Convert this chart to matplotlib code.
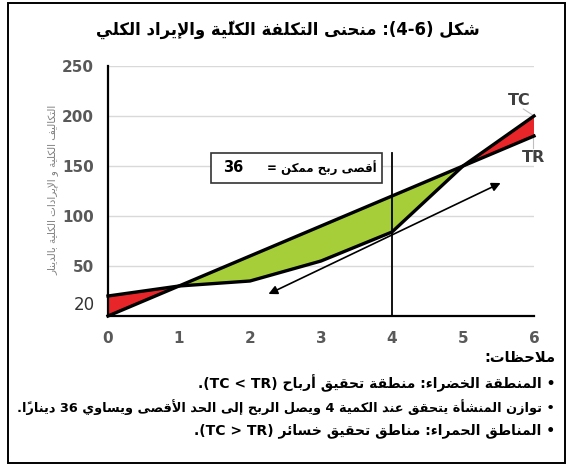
import matplotlib
matplotlib.use("Agg")
import matplotlib.pyplot as plt
from matplotlib.patches import Rectangle
import numpy as np

# ---------------- data ----------------
quantity = [0, 1, 2, 3, 4, 5, 6]
total_cost = [20, 30, 35, 55, 84, 150, 200]
total_revenue = [0, 30, 60, 90, 120, 150, 180]
x_ticks = [0, 1, 2, 3, 4, 5, 6]
y_ticks = [50, 100, 150, 200, 250]
max_profit = 36
optimal_q = 4

title_txt = "شكل (4-6): منحنى التكلفة الكليّة والإيراد الكلي"
ylabel_txt = "التكاليف الكلية و الإيرادات الكلية بالدينار"
box_txt = "أقصى ربح ممكن ="
notes_head = "ملاحظات:"
notes = [
    "• المنطقة الخضراء: منطقة تحقيق أرباح (TC < TR).",
    "• توازن المنشأة يتحقق عند الكمية 4 ويصل الربح إلى الحد الأقصى ويساوي 36 ديناراً.",
    "• المناطق الحمراء: مناطق تحقيق خسائر (TC > TR).",
]

# ---------------- simple Arabic shaping + bidi ----------------
_base = [('\u0621', 0xFE80, 1), ('\u0622', 0xFE81, 2), ('\u0623', 0xFE83, 2),
         ('\u0624', 0xFE85, 2), ('\u0625', 0xFE87, 2), ('\u0626', 0xFE89, 4),
         ('\u0627', 0xFE8D, 2), ('\u0628', 0xFE8F, 4), ('\u0629', 0xFE93, 2),
         ('\u062A', 0xFE95, 4), ('\u062B', 0xFE99, 4), ('\u062C', 0xFE9D, 4),
         ('\u062D', 0xFEA1, 4), ('\u062E', 0xFEA5, 4), ('\u062F', 0xFEA9, 2),
         ('\u0630', 0xFEAB, 2), ('\u0631', 0xFEAD, 2), ('\u0632', 0xFEAF, 2),
         ('\u0633', 0xFEB1, 4), ('\u0634', 0xFEB5, 4), ('\u0635', 0xFEB9, 4),
         ('\u0636', 0xFEBD, 4), ('\u0637', 0xFEC1, 4), ('\u0638', 0xFEC5, 4),
         ('\u0639', 0xFEC9, 4), ('\u063A', 0xFECD, 4), ('\u0641', 0xFED1, 4),
         ('\u0642', 0xFED5, 4), ('\u0643', 0xFED9, 4), ('\u0644', 0xFEDD, 4),
         ('\u0645', 0xFEE1, 4), ('\u0646', 0xFEE5, 4), ('\u0647', 0xFEE9, 4),
         ('\u0648', 0xFEED, 2), ('\u0649', 0xFEEF, 2), ('\u064A', 0xFEF1, 4)]
FORMS = {c: tuple(start + k for k in range(n)) for c, start, n in _base}
LAM_ALEF = {'\u0622': 0xFEF5, '\u0623': 0xFEF7, '\u0625': 0xFEF9, '\u0627': 0xFEFB}
LAM = '\u0644'


def is_mark(c):
    return '\u064B' <= c <= '\u0652' or c == '\u0670'


def reshape(s):
    ch = list(s)
    n = len(ch)

    def prev_joins(i):
        j = i - 1
        while j >= 0 and is_mark(ch[j]):
            j -= 1
        return j >= 0 and ch[j] in FORMS and len(FORMS[ch[j]]) == 4

    def next_letter(i):
        j = i + 1
        while j < n and is_mark(ch[j]):
            j += 1
        return (ch[j], j) if (j < n and ch[j] in FORMS) else (None, j)

    out = []
    i = 0
    while i < n:
        c = ch[i]
        if c == LAM:
            nl, j = next_letter(i)
            if nl in LAM_ALEF:
                code = LAM_ALEF[nl] + (1 if prev_joins(i) else 0)
                out.append(chr(code))
                out.extend(ch[i + 1:j])
                i = j + 1
                continue
        if c in FORMS:
            f = FORMS[c]
            jp = len(f) >= 2 and prev_joins(i)
            jn = len(f) == 4 and next_letter(i)[0] is not None
            if jp and jn:
                out.append(chr(f[3]))
            elif jp:
                out.append(chr(f[1]))
            elif jn:
                out.append(chr(f[2]))
            else:
                out.append(chr(f[0]))
        else:
            out.append(c)
        i += 1
    return ''.join(out)


def _rtl(c):
    return ('\u0600' <= c[0] <= '\u06FF') or ('\uFB50' <= c[0] <= '\uFEFF')


def _ltr(c):
    return c[0].isascii() and c[0].isalnum()


MIRROR = {'(': ')', ')': '(', '[': ']', ']': '[', '<': '>', '>': '<'}


def ar(s):
    s = reshape(s)
    cl = []
    for c in s:
        if is_mark(c) and cl:
            cl[-1] += c
        else:
            cl.append(c)
    units = []
    i = 0
    n = len(cl)
    while i < n:
        if _ltr(cl[i]):
            last = i
            k = i + 1
            while k < n and not _rtl(cl[k]):
                if _ltr(cl[k]):
                    last = k
                k += 1
            units.append(''.join(cl[i:last + 1]))
            i = last + 1
        else:
            units.append(MIRROR.get(cl[i], cl[i]))
            i += 1
    return ''.join(units[::-1])


# ---------------- figure ----------------
W, H = 569, 470
fig = plt.figure(figsize=(W / 100, H / 100), dpi=100)
fig.patch.set_facecolor('white')

# outer frame
fig.patches.append(Rectangle((8 / W, 7 / H), 557 / W, 460 / H, transform=fig.transFigure,
                             fill=False, edgecolor='black', linewidth=1.4))

ax = fig.add_axes([108 / W, 154 / H, 426 / W, 250 / H])
ax.set_xlim(0, 6)
ax.set_ylim(0, 250)

for s in ['top', 'right']:
    ax.spines[s].set_visible(False)
for s in ['left', 'bottom']:
    ax.spines[s].set_linewidth(1.6)
    ax.spines[s].set_color('black')
    ax.spines[s].set_zorder(6)

ax.set_yticks(y_ticks)
ax.set_xticks(x_ticks)
ax.tick_params(axis='both', length=0, labelsize=11, labelcolor='#595959')
ax.tick_params(axis='y', pad=10)
ax.tick_params(axis='x', pad=11)
for lab in ax.get_xticklabels() + ax.get_yticklabels():
    lab.set_fontweight('bold')
ax.yaxis.grid(True, color='#d9d9d9', linewidth=1.0)
ax.set_axisbelow(True)

q = np.array(quantity)
tc = np.array(total_cost)
tr = np.array(total_revenue)

ax.fill_between(q, tc, tr, where=tr >= tc, interpolate=True, color='#a6ce39', linewidth=0, zorder=2)
ax.fill_between(q, tc, tr, where=tc >= tr, interpolate=True, color='#e8262a', linewidth=0, zorder=2)

ax.plot(q, tc, color='black', linewidth=2.4, solid_joinstyle='round', zorder=4, clip_on=False)
ax.plot(q, tr, color='black', linewidth=2.4, solid_joinstyle='round', zorder=4, clip_on=False)

# vertical line at optimal quantity
ax.plot([optimal_q, optimal_q], [0, 163], color='black', linewidth=1.3, zorder=5)

# double arrow
ax.annotate('', xy=(2.26, 22), xytext=(5.53, 133),
            arrowprops=dict(arrowstyle='<|-|>', color='black', lw=1.2, mutation_scale=13,
                            shrinkA=0, shrinkB=0), zorder=5)

# max profit box
ax.add_patch(Rectangle((1.45, 133), 2.41, 30, facecolor='white', edgecolor='#333333',
                       linewidth=1.2, zorder=5))
ax.text(1.77, 148, str(max_profit), ha='center', va='center', fontsize=10.5,
        fontweight='bold', zorder=6, family='DejaVu Sans')
ax.text(3.78, 148, ar(box_txt), ha='right', va='center', fontsize=8.5,
        fontweight='bold', zorder=6, family='DejaVu Sans')

# TC / TR labels
ax.text(5.79, 216, 'TC', ha='center', va='center', fontsize=11.5, fontweight='bold', color='#404040')
ax.text(6.0, 159, 'TR', ha='center', va='center', fontsize=11.5, fontweight='bold', color='#404040')
ax.plot([5.85, 5.98], [207, 201], color='#bfbfbf', linewidth=0.8, clip_on=False)
ax.plot([5.99, 5.99], [168, 178], color='#bfbfbf', linewidth=0.8, clip_on=False)

# "20" label
ax.annotate('20', xy=(0, 11), xycoords=('axes fraction', 'data'), xytext=(-9.5, 0),
            textcoords='offset points', ha='right', va='center', fontsize=12, color='#333333')

# y label
fig.text(53 / W, 1 - 190 / H, ar(ylabel_txt), rotation=90, ha='center', va='center',
         fontsize=7.5, color='#7f7f7f')

# title
title = fig.text(288 / W, 1 - 30 / H, ar(title_txt), ha='center', va='center', fontsize=12,
                 fontweight='bold')

# notes
fig.text(555 / W, 1 - 358 / H, ar(notes_head), ha='right', va='center', fontsize=10.5,
         fontweight='bold')
note_artists = []
for k, t in enumerate(notes):
    note_artists.append(fig.text(555 / W, 1 - (383 + 24 * k) / H, ar(t), ha='right',
                                 va='center', fontsize=10, fontweight='bold'))

# fit text widths to the reference extents (pixels)
renderer = fig.canvas.get_renderer()


def fit_width(artist, target_px):
    w = artist.get_window_extent(renderer).width
    if w > 0:
        artist.set_fontsize(artist.get_fontsize() * target_px / w)


fit_width(title, 385)
fit_width(note_artists[1], 540)

fig.savefig('out.png', dpi=100, facecolor='white')
